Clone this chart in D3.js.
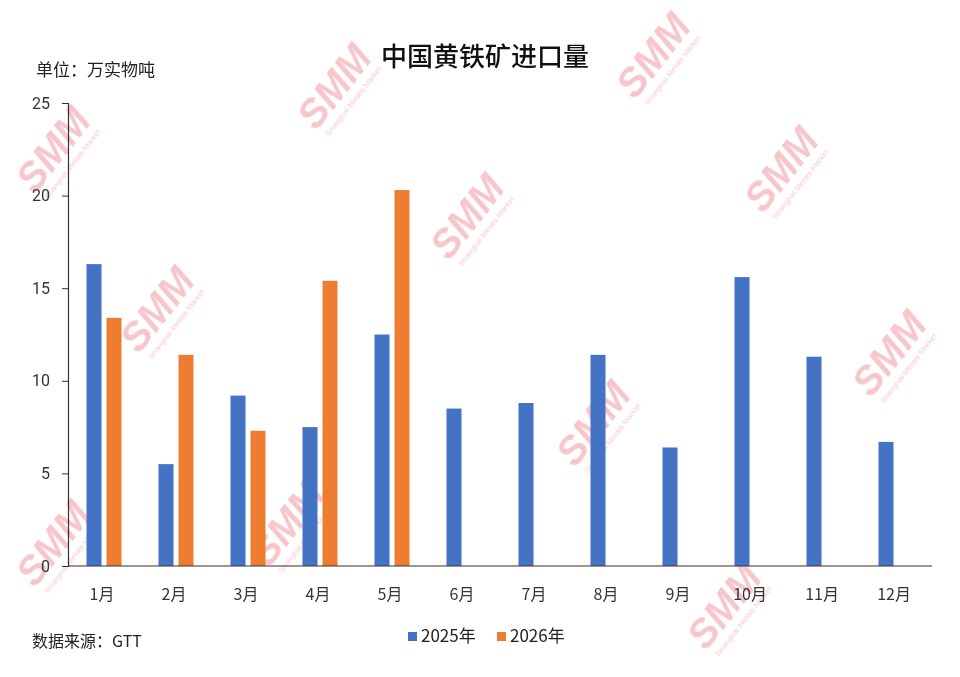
<!DOCTYPE html>
<html><head><meta charset="utf-8">
<script src="https://cdn.jsdelivr.net/npm/d3@7/dist/d3.min.js"></script>
<style>body{margin:0;background:#fff;font-family:"Noto Sans CJK SC","Noto Sans",sans-serif;}</style>
</head><body><svg id="c" width="960" height="677"></svg>
<script>
const months = ["1月","2月","3月","4月","5月","6月","7月","8月","9月","10月","11月","12月"];
const seriesNames = ["2025年","2026年"];
const values2025 = [16.3,5.5,9.2,7.5,12.5,8.5,8.8,11.4,6.4,15.6,11.3,6.7];
const values2026 = [13.4,11.4,7.3,15.4,20.3,null,null,null,null,null,null,null];
const yTicks = [0,5,10,15,20,25];
const colors = ["#4472C4","#ED7D31"];

const svg = d3.select("#c");
const W = 960, H = 677;
const m = {left:68, right:28, top:103, bottom:111};
const x0 = d3.scaleBand().domain(months).range([m.left, W - m.right]).paddingInner(37/72).paddingOuter(37/144);
const x1 = d3.scaleBand().domain(seriesNames).range([0, x0.bandwidth()]).paddingInner(0.25);
const y = d3.scaleLinear().domain([0,25]).range([H - m.bottom, m.top]);

// watermarks
const wm = [[64,158],[345,95],[664,64],[168,318],[478,225],[792,178],[900,362],[604,432],[298,532],[64,552],[735,615]];
const wg = svg.append("g").attr("opacity",0.3);
wm.forEach(([cx,cy])=>{
  const g = wg.append("g").attr("transform",`translate(${cx},${cy}) rotate(-52)`);
  g.append("text").attr("text-anchor","middle").attr("font-family","Liberation Sans, Arial").attr("font-weight","bold").attr("font-style","italic").attr("font-size",40).attr("fill","#e0424f").text("SMM");
  g.append("text").attr("text-anchor","middle").attr("y",13).attr("font-family","Liberation Sans, Arial").attr("font-size",8).attr("fill","#e0424f").text("Shanghai Metals Market");
});

// bars
const data = months.map((mo,i)=>({mo, vals:[values2025[i], values2026[i]]}));
const grp = svg.append("g").selectAll("g").data(data).join("g").attr("transform",d=>`translate(${x0(d.mo)},0)`);
grp.selectAll("rect").data(d=>d.vals.map((v,j)=>({v,s:seriesNames[j],c:colors[j]})).filter(e=>e.v!=null))
  .join("rect").attr("x",e=>x1(e.s)).attr("width",x1.bandwidth())
  .attr("y",e=>y(e.v)).attr("height",e=>y(0)-y(e.v)).attr("fill",e=>e.c);

// y axis
const ya = svg.append("g").attr("transform",`translate(${m.left},0)`)
  .call(d3.axisLeft(y).tickValues(yTicks).tickSize(6).tickPadding(12));
ya.selectAll("text").attr("font-size",16).attr("fill","#333").attr("font-family","Roboto, Noto Sans, sans-serif");
ya.select(".domain").attr("stroke","#333").attr("stroke-width",1.2);
ya.selectAll(".tick line").attr("stroke","#333");

// x axis
const xa = svg.append("g").attr("transform",`translate(0,${y(0)})`)
  .call(d3.axisBottom(x0).tickSize(0));
xa.select(".domain").attr("stroke","#333").attr("stroke-width",1.2).attr("d",`M${m.left},0H${W-m.right}`);
xa.selectAll(".tick text").attr("font-size",16).attr("fill","#333").attr("font-family","Noto Sans CJK SC")
  .attr("y",34).attr("dy",0).attr("dx",-2);

// title & notes
svg.append("text").attr("x",485).attr("y",66).attr("text-anchor","middle").attr("font-size",26).attr("font-weight",500).attr("fill","#111").text("中国黄铁矿进口量");
svg.append("text").attr("x",36).attr("y",76).attr("font-size",17).attr("fill","#222").text("单位：万实物吨");
svg.append("text").attr("x",32).attr("y",647).attr("font-size",16).attr("fill","#222").text("数据来源：GTT");

// legend
const lg = svg.append("g").attr("transform","translate(408,642)");
seriesNames.forEach((s,i)=>{
  const g = lg.append("g").attr("transform",`translate(${i*89},0)`);
  g.append("rect").attr("x",0).attr("y",-10).attr("width",9).attr("height",9).attr("fill",colors[i]);
  g.append("text").attr("x",13).attr("y",0).attr("font-size",17).attr("fill","#222").text(s);
});
</script></body></html>
